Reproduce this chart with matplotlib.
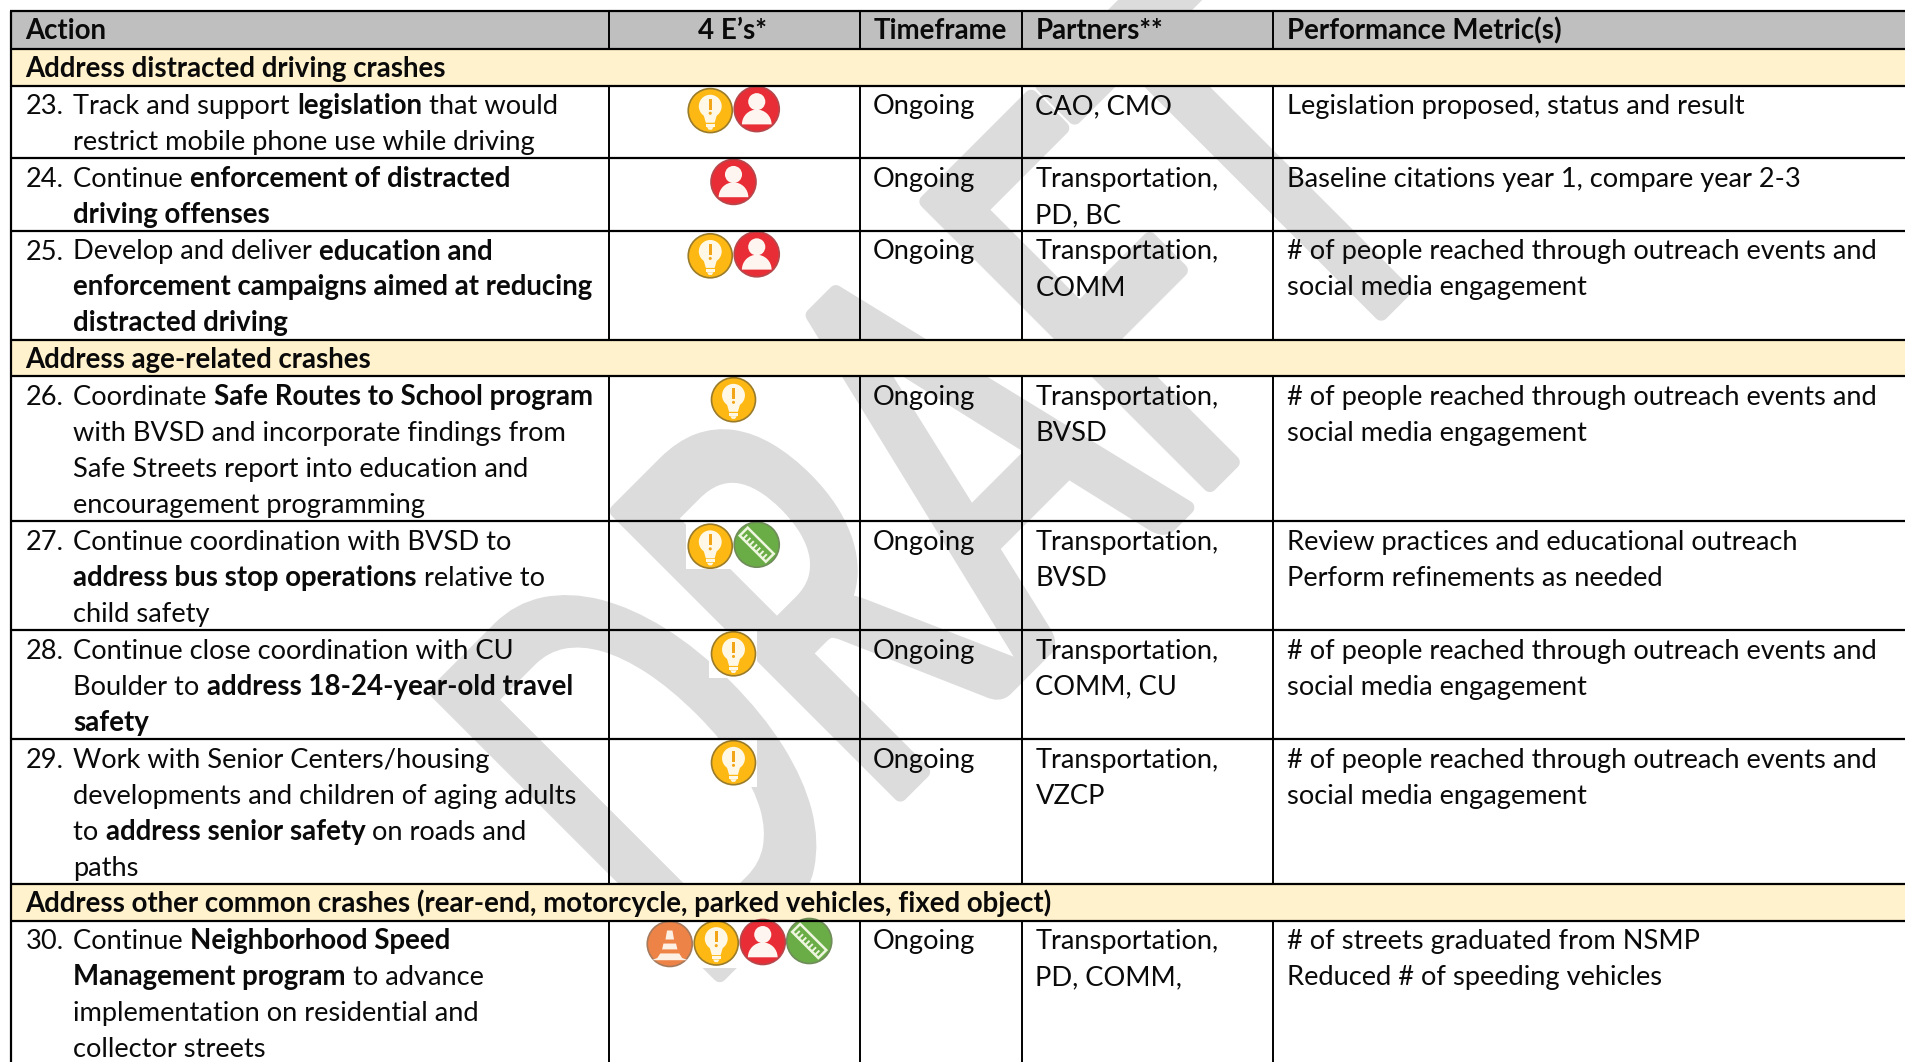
import numpy as np
import matplotlib
matplotlib.use("Agg")
import matplotlib.pyplot as plt
from matplotlib.patches import Circle, Rectangle, Polygon, Wedge
from matplotlib.patheffects import AbstractPathEffect
from matplotlib.transforms import Affine2D

W, H = 1906, 1062
FONT = "Lato"
TEXT_PT = 19.6
BOLD_PT = 19.9
plt.rcParams["font.family"] = [FONT, "DejaVu Sans"]

# ---- data ----
headers = ["Action", "4 E\u2019s*", "Timeframe", "Partners**", "Performance Metric(s)"]
sections = {
    0: "Address distracted driving crashes",
    3: "Address age-related crashes",
    7: "Address other common crashes (rear-end, motorcycle, parked vehicles, fixed object)",
}
numbers = ["23.", "24.", "25.", "26.", "27.", "28.", "29.", "30."]
# every action line is a list of (text, is_bold) runs
actions = [
    [[("Track and support ", 0), ("legislation", 1), (" that would", 0)],
     [("restrict mobile phone use while driving", 0)]],
    [[("Continue ", 0), ("enforcement of distracted", 1)],
     [("driving offenses", 1)]],
    [[("Develop and deliver ", 0), ("education and", 1)],
     [("enforcement campaigns aimed at reducing", 1)],
     [("distracted driving", 1)]],
    [[("Coordinate ", 0), ("Safe Routes to School program", 1)],
     [("with BVSD and incorporate findings from", 0)],
     [("Safe Streets report into education and", 0)],
     [("encouragement programming", 0)]],
    [[("Continue coordination with BVSD to", 0)],
     [("address bus stop operations", 1), (" relative to", 0)],
     [("child safety", 0)]],
    [[("Continue close coordination with CU", 0)],
     [("Boulder to ", 0), ("address 18-24-year-old travel", 1)],
     [("safety", 1)]],
    [[("Work with Senior Centers/housing", 0)],
     [("developments and children of aging adults", 0)],
     [("to ", 0), ("address senior safety", 1), (" on roads and", 0)],
     [("paths", 0)]],
    [[("Continue ", 0), ("Neighborhood Speed", 1)],
     [("Management program", 1), (" to advance", 0)],
     [("implementation on residential and", 0)],
     [("collector streets", 0)]],
]
es = [
    ["bulb", "person"], ["person"], ["bulb", "person"], ["bulb"],
    ["bulb", "ruler"], ["bulb"], ["bulb"], ["cone", "bulb", "person", "ruler"],
]
timeframes = ["Ongoing"] * 8
partners = [
    ["CAO, CMO"],
    ["Transportation,", "PD, BC"],
    ["Transportation,", "COMM"],
    ["Transportation,", "BVSD"],
    ["Transportation,", "BVSD"],
    ["Transportation,", "COMM, CU"],
    ["Transportation,", "VZCP"],
    ["Transportation,", "PD, COMM,"],
]
reach = ["# of people reached through outreach events and", "social media engagement"]
metrics = [
    ["Legislation proposed, status and result"],
    ["Baseline citations year 1, compare year 2-3"],
    reach,
    reach,
    ["Review practices and educational outreach", "Perform refinements as needed"],
    reach,
    reach,
    ["# of streets graduated from NSMP", "Reduced # of speeding vehicles"],
]
watermark = "DRAFT"

# ---- layout ----
COLS = [11, 609, 860, 1022, 1273, W + 10]
TOP = 11
LINE_H = 36.3
HEADER_H = 38.3
BLACK = "#0a0a0a"
GREY = "#bfbfbf"
CREAM = "#fff2cc"
WM = "#dcdcdc"

fig = plt.figure(figsize=(W / 100, H / 100), dpi=100, facecolor="white")
ax = fig.add_axes([0, 0, 1, 1])
ax.set_xlim(0, W)
ax.set_ylim(H, 0)
ax.axis("off")
renderer = fig.canvas.get_renderer()


class Condensed(AbstractPathEffect):
    """Draws a text narrowed along its baseline, with rounded stroke ends."""

    def __init__(self, sx, stroke):
        super().__init__()
        self.sx = sx
        self.stroke = stroke

    def draw_path(self, renderer, gc, tpath, affine, rgbFace=None):
        gc0 = renderer.new_gc()
        gc0.copy_properties(gc)
        gc0.set_linewidth(self.stroke)
        gc0.set_joinstyle("round")
        gc0.set_capstyle("round")
        gc0.set_foreground(rgbFace)
        renderer.draw_path(gc0, tpath, Affine2D().scale(self.sx, 1) + affine, rgbFace)
        gc0.restore()


def width_of(s, weight):
    size = BOLD_PT if weight == "bold" else TEXT_PT
    t = ax.text(0, 0, "|" + s + "|", fontsize=size, fontweight=weight, family=FONT)
    w1 = t.get_window_extent(renderer).width
    t.set_text("||")
    w0 = t.get_window_extent(renderer).width
    t.remove()
    return w1 - w0


def put_runs(x, y, runs):
    for s, b in runs:
        weight = "bold" if b else "normal"
        ax.text(x, y, s, fontsize=BOLD_PT if b else TEXT_PT, fontweight=weight,
                color=BLACK, va="baseline", ha="left", zorder=5, family=FONT)
        x += width_of(s, weight)


def bulb(x, y, r):
    r = r - .5
    ax.add_patch(Circle((x, y), r, fc="#fdb813", ec="#9a7b2a", lw=1.2, zorder=4))
    ax.add_patch(Circle((x, y - r * .2), r * .52, fc="#fff8e6", ec="none", zorder=4.1))
    ax.add_patch(Polygon([(x - r * .33, y + r * .1), (x + r * .33, y + r * .1),
                          (x + r * .2, y + r * .55), (x - r * .2, y + r * .55)],
                         fc="#fff8e6", ec="none", zorder=4.1))
    ax.add_patch(Rectangle((x - r * .2, y + r * .6), r * .4, r * .13, fc="#fff8e6", ec="none", zorder=4.1))
    ax.add_patch(Polygon([(x - r * .15, y + r * .75), (x + r * .15, y + r * .75),
                          (x + r * .07, y + r * .87), (x - r * .07, y + r * .87)],
                         fc="#fff8e6", ec="none", zorder=4.1))
    ax.add_patch(Rectangle((x - r * .06, y - r * .55), r * .12, r * .5, fc="#f2a516", ec="none", zorder=4.2))
    ax.add_patch(Circle((x, y + r * .12), r * .07, fc="#f2a516", ec="none", zorder=4.2))


def person(x, y, r):
    ax.add_patch(Circle((x, y), r, fc="#e92d36", ec="#b5484c", lw=1.2, zorder=4))
    ax.add_patch(Circle((x, y - r * .33), r * .38, fc="#fff5f0", ec="none", zorder=4.1))
    ax.add_patch(Wedge((x, y + r * .68), r * .66, 180, 360, fc="#fff5f0", ec="none", zorder=4.1))


def ruler(x, y, r):
    ax.add_patch(Circle((x, y), r, fc="#6aac46", ec="#6f8c5a", lw=1.2, zorder=4))
    c, s = np.cos(np.pi / 4), np.sin(np.pi / 4)

    def rot(u, v):
        return (x + u * c - v * s, y + u * s + v * c)

    L, T = r * .82, r * .25
    ax.add_patch(Polygon([rot(-L, -T), rot(L, -T), rot(L, T), rot(-L, T)], fc="none",
                         ec="#eef6df", lw=1.8, zorder=4.1))
    for u in np.linspace(-L * .75, L * .75, 7):
        a, b = rot(u, T), rot(u, T * .1)
        ax.plot([a[0], b[0]], [a[1], b[1]], color="#eef6df", lw=1.4, zorder=4.1)


def cone(x, y, r):
    ax.add_patch(Circle((x, y), r, fc="#ee8347", ec="#a67a5c", lw=1.2, zorder=4))
    col = "#fdf1e6"
    ax.add_patch(Polygon([(x - r * .12, y - r * .6), (x + r * .12, y - r * .6),
                          (x + r * .19, y - r * .2), (x - r * .19, y - r * .2)], fc=col, ec="none", zorder=4.1))
    ax.add_patch(Polygon([(x - r * .28, y - r * .02), (x + r * .28, y - r * .02),
                          (x + r * .34, y + r * .24), (x - r * .34, y + r * .24)], fc=col, ec="none", zorder=4.1))
    ax.add_patch(Polygon([(x - r * .42, y + r * .42), (x + r * .42, y + r * .42),
                          (x + r * .55, y + r * .62), (x + r * .8, y + r * .72),
                          (x - r * .8, y + r * .72), (x - r * .55, y + r * .62)], fc=col, ec="none", zorder=4.1))


DRAW = {"bulb": bulb, "person": person, "ruler": ruler, "cone": cone}

# watermark
ax.text(698, 997, watermark, fontsize=403, color=WM, rotation=45, rotation_mode="anchor",
        ha="left", va="baseline", zorder=0, family=FONT, clip_on=True,
        path_effects=[Condensed(0.6, 10)])

# ---- table ----
x0 = COLS[0]
y = TOP
ax.add_patch(Rectangle((x0, y), W, HEADER_H, fc=GREY, ec="none", zorder=2))
for i, h in enumerate(headers):
    if i == 1:
        ax.text((COLS[1] + COLS[2]) / 2 - 2, y + 28, h, fontsize=BOLD_PT, fontweight="bold", color=BLACK,
                ha="center", va="baseline", zorder=5)
    else:
        ax.text(COLS[i] + 14, y + 28, h, fontsize=BOLD_PT, fontweight="bold", color=BLACK,
                va="baseline", zorder=5)
hlines = [y, y + HEADER_H]
y += HEADER_H

for r in range(len(actions)):
    if r in sections:
        ax.add_patch(Rectangle((x0, y), W, LINE_H, fc=CREAM, ec="none", zorder=2))
        ax.text(x0 + 14, y + 28, sections[r], fontsize=BOLD_PT, fontweight="bold", color=BLACK,
                va="baseline", zorder=5)
        y += LINE_H
        hlines.append(y)
    n = len(actions[r])
    base = y + 28.7
    ax.text(x0 + 14.5, base, numbers[r], fontsize=TEXT_PT, color=BLACK, va="baseline", zorder=5)
    for k, runs in enumerate(actions[r]):
        put_runs(73.5, base + k * LINE_H - k * .3, runs)
    ax.text(COLS[2] + 13, base, timeframes[r], fontsize=TEXT_PT, color=BLACK, va="baseline", zorder=5)
    for k, s in enumerate(partners[r]):
        ax.text(COLS[3] + 13.5, base + k * LINE_H - k * .3, s, fontsize=TEXT_PT, color=BLACK, va="baseline", zorder=5)
    for k, s in enumerate(metrics[r]):
        ax.text(COLS[4] + 14.5, base + k * LINE_H - k * .3, s, fontsize=TEXT_PT, color=BLACK, va="baseline", zorder=5)
    # 4 E's icons
    names = es[r]
    m = len(names)
    step = 46.5
    cx = (COLS[1] + COLS[2]) / 2 - 1 + (6 if m == 4 else 0)
    xs = [cx + (j - (m - 1) / 2) * step for j in range(m)]
    ax.add_patch(Rectangle((xs[0] - 24, y + .5), xs[-1] - xs[0] + 48, 47, fc="white", ec="none", zorder=3))
    for j, nm in enumerate(names):
        dy = {1: 23.7, 2: 25 - j * 1.5, 4: 23.5 - j}[m]
        DRAW[nm](xs[j], y + dy, 22.5)
    y += n * LINE_H
    hlines.append(y)

bottom = y
for yy in hlines:
    ax.plot([x0 - 1, W + 5], [yy, yy], color="black", lw=1.6, zorder=6, solid_capstyle="butt")

# vertical rules: broken by section bands
cur = TOP + HEADER_H
spans = [(TOP, TOP + HEADER_H)]
for r in range(len(actions)):
    if r in sections:
        cur += LINE_H
        start = cur
    cur += len(actions[r]) * LINE_H
    if r + 1 in sections or r == len(actions) - 1:
        spans.append((start, cur))
for a, b in spans:
    for c in COLS[1:5]:
        ax.plot([c, c], [a, b], color="black", lw=1.4, zorder=6, solid_capstyle="butt")
ax.plot([x0, x0], [TOP, bottom], color="black", lw=1.6, zorder=6, solid_capstyle="butt")

fig.savefig("out.png", dpi=100, facecolor="white")
